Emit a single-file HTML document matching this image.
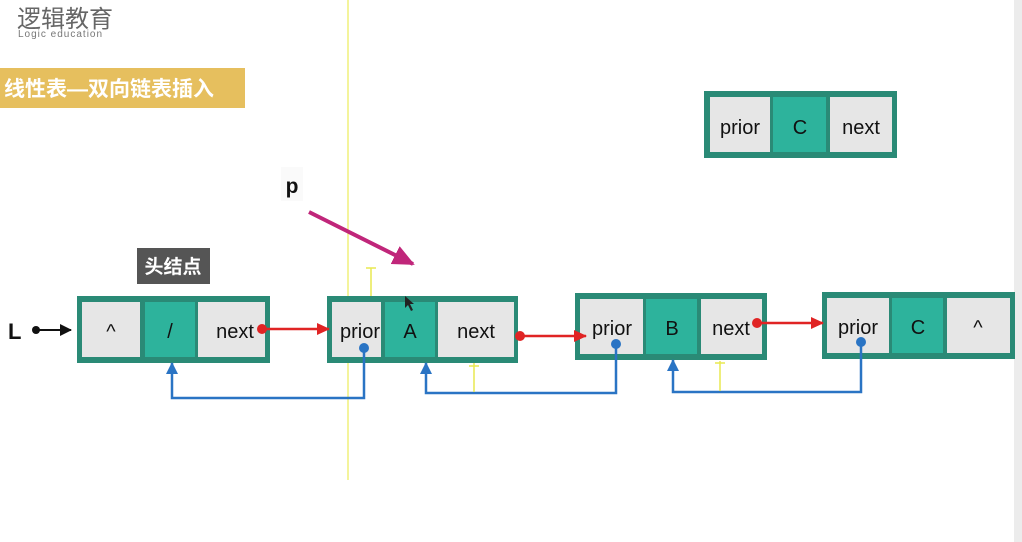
<!DOCTYPE html>
<html><head><meta charset="utf-8"><style>
html,body{margin:0;padding:0;background:#fff;width:1022px;height:542px;overflow:hidden}
text{font-family:"Liberation Sans","Noto Sans CJK SC",sans-serif}
</style></head><body>
<svg width="1022" height="542" viewBox="0 0 1022 542" xmlns="http://www.w3.org/2000/svg">
<defs>
<marker id="ar" markerWidth="13" markerHeight="12" refX="12" refY="6" orient="auto" markerUnits="userSpaceOnUse"><path d="M0,0 L13,6 L0,12 z" fill="#e02424"/></marker>
<marker id="ab" markerWidth="12" markerHeight="12" refX="11" refY="6" orient="auto" markerUnits="userSpaceOnUse"><path d="M0,0 L12,6 L0,12 z" fill="#2a74c4"/></marker>
<marker id="ak" markerWidth="12" markerHeight="12" refX="11" refY="6" orient="auto" markerUnits="userSpaceOnUse"><path d="M0,0 L12,6 L0,12 z" fill="#111"/></marker>
<marker id="ap" markerWidth="22" markerHeight="22" refX="20" refY="11" orient="auto" markerUnits="userSpaceOnUse"><path d="M0,1 L22,11 L0,21 z" fill="#c0267a"/></marker>
</defs>
<rect x="1014" y="0" width="8" height="542" fill="#ececec"/>
<text x="17" y="27" font-size="24" fill="#666">逻辑教育</text>
<text x="18" y="37" font-size="10" fill="#777" letter-spacing="1">Logic education</text>
<rect x="0" y="68" width="245" height="40" fill="#e6bf5e"/>
<text x="4" y="96" font-size="21" fill="#fff" font-weight="bold">线性表—双向链表插入</text>
<line x1="348" y1="0" x2="348" y2="480" stroke="#eded5a" stroke-width="1.2"/>
<g font-size="20" text-anchor="middle" fill="#111">
<rect x="704" y="91" width="193" height="67" fill="#2a8a76"/>
<rect x="710" y="97" width="60" height="55" fill="#e6e6e6"/><rect x="773" y="97" width="53" height="55" fill="#2db39c"/><rect x="830" y="97" width="62" height="55" fill="#e6e6e6"/>
<text x="740" y="134">prior</text><text x="800" y="134">C</text><text x="861" y="134">next</text>
<rect x="77" y="296" width="193" height="67" fill="#2a8a76"/>
<rect x="82" y="302" width="58" height="55" fill="#e6e6e6"/><rect x="145" y="302" width="50" height="55" fill="#2db39c"/><rect x="198" y="302" width="67" height="55" fill="#e6e6e6"/>
<text x="111" y="338">^</text><text x="170" y="338">/</text><text x="235" y="338">next</text>
<rect x="327" y="296" width="191" height="67" fill="#2a8a76"/>
<rect x="332" y="302" width="49" height="55" fill="#e6e6e6"/><rect x="385" y="302" width="50" height="55" fill="#2db39c"/><rect x="438" y="302" width="76" height="55" fill="#e6e6e6"/>
<text x="360" y="338">prior</text><text x="410" y="338">A</text><text x="476" y="338">next</text>
<rect x="575" y="293" width="192" height="67" fill="#2a8a76"/>
<rect x="580" y="299" width="63" height="55" fill="#e6e6e6"/><rect x="646" y="299" width="51" height="55" fill="#2db39c"/><rect x="701" y="299" width="61" height="55" fill="#e6e6e6"/>
<text x="612" y="335">prior</text><text x="672" y="335">B</text><text x="731" y="335">next</text>
<rect x="822" y="292" width="193" height="67" fill="#2a8a76"/>
<rect x="827" y="298" width="62" height="55" fill="#e6e6e6"/><rect x="892" y="298" width="51" height="55" fill="#2db39c"/><rect x="947" y="298" width="63" height="55" fill="#e6e6e6"/>
<text x="858" y="334">prior</text><text x="918" y="334">C</text><text x="978" y="334">^</text>
</g>
<rect x="137" y="248" width="73" height="36" fill="#555"/>
<text x="173" y="273" font-size="19" fill="#fff" text-anchor="middle" font-weight="bold">头结点</text>
<rect x="281" y="167" width="22" height="34" fill="#fafafa"/>
<text x="292" y="193" font-size="21" font-weight="bold" text-anchor="middle" fill="#111">p</text>
<text x="8" y="339" font-size="22" font-weight="bold" fill="#111">L</text>
<circle cx="36" cy="330" r="4" fill="#111"/>
<line x1="36" y1="330" x2="71" y2="330" stroke="#111" stroke-width="2" marker-end="url(#ak)"/>
<line x1="309" y1="212" x2="413" y2="264" stroke="#c0267a" stroke-width="4" marker-end="url(#ap)"/>
<g stroke="#e02424" stroke-width="2.5" fill="none">
<line x1="262" y1="329" x2="329" y2="329" marker-end="url(#ar)"/>
<line x1="520" y1="336" x2="586" y2="336" marker-end="url(#ar)"/>
<line x1="757" y1="323" x2="823" y2="323" marker-end="url(#ar)"/>
</g>
<g fill="#e02424"><circle cx="262" cy="329" r="5"/><circle cx="520" cy="336" r="5"/><circle cx="757" cy="323" r="5"/></g>
<g stroke="#2a74c4" stroke-width="2.5" fill="none">
<polyline points="364,348 364,398 172,398 172,363" marker-end="url(#ab)"/>
<polyline points="616,344 616,393 426,393 426,363" marker-end="url(#ab)"/>
<polyline points="861,342 861,392 673,392 673,360" marker-end="url(#ab)"/>
</g>
<g fill="#2a74c4"><circle cx="364" cy="348" r="5"/><circle cx="616" cy="344" r="5"/><circle cx="861" cy="342" r="5"/></g>
<g stroke="#e8e850" stroke-width="1.5">
<line x1="371" y1="268" x2="371" y2="296"/><line x1="366" y1="268" x2="376" y2="268"/>
<line x1="474" y1="363" x2="474" y2="392"/><line x1="469" y1="366" x2="479" y2="366"/>
<line x1="720" y1="361" x2="720" y2="391"/><line x1="715" y1="363" x2="725" y2="363"/>
</g>
<path d="M405,296 l0,12 l3,-3 l3,6 l2,-1 l-3,-6 l4,0 z" fill="#222"/>
</svg>
</body></html>
